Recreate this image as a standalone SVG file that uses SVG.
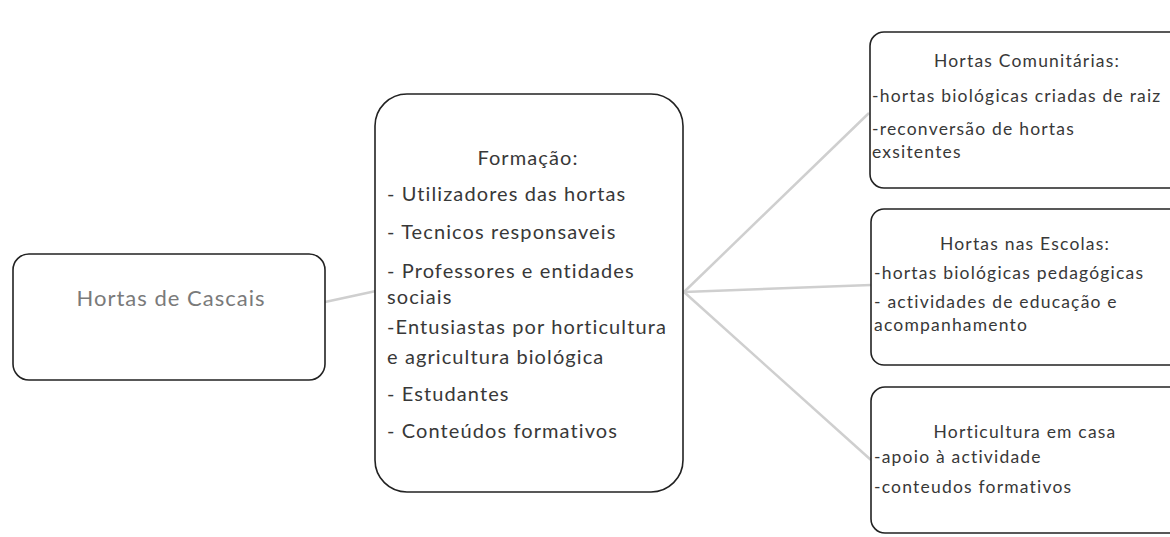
<svg xmlns="http://www.w3.org/2000/svg" width="1170" height="537" viewBox="0 0 1170 537">
<style>
.box{fill:#fff;stroke:#222;stroke-width:1.6}
.conn{stroke:#cfcfcf;stroke-width:2.5;fill:none}
text{font-family:Lato,"Liberation Sans",sans-serif;fill:#383838}
.m{font-size:20px;letter-spacing:1.1px}
.r{font-size:17.5px;letter-spacing:1.2px}
.c{text-anchor:middle}
</style>
<rect width="1170" height="537" fill="#fff"/>
<g id="connectors">
<line class="conn" x1="325" y1="302" x2="376" y2="291"/>
<line class="conn" x1="684" y1="292" x2="869" y2="113"/>
<line class="conn" x1="684" y1="292" x2="871" y2="285"/>
<line class="conn" x1="684" y1="292" x2="871" y2="460"/>
</g>
<g id="hortas-cascais">
<rect class="box" x="13" y="254" width="312" height="126" rx="16"/>
<text x="171" y="306" class="c" style="font-size:22px;letter-spacing:1px;fill:#7a7a7a">Hortas de Cascais</text>
</g>
<g id="formacao">
<rect class="box" x="375" y="94" width="308" height="398" rx="32"/>
<text x="528" y="165" class="m c">Formação:</text>
<text x="387" y="201" class="m">- Utilizadores das hortas</text>
<text x="387" y="239" class="m">- Tecnicos responsaveis</text>
<text x="387" y="278" class="m">- Professores e entidades</text>
<text x="387" y="304" class="m">sociais</text>
<text x="387" y="334" class="m">-Entusiastas por horticultura</text>
<text x="387" y="364" class="m">e agricultura biológica</text>
<text x="387" y="401" class="m">- Estudantes</text>
<text x="387" y="438" class="m">- Conteúdos formativos</text>
</g>
<g id="hortas-comunitarias">
<rect class="box" x="870" y="32" width="320" height="156" rx="14"/>
<text x="1027" y="67" class="r c">Hortas Comunitárias:</text>
<text x="872" y="102" class="r">-hortas biológicas criadas de raiz</text>
<text x="872" y="135" class="r">-reconversão de hortas</text>
<text x="872" y="158" class="r">exsitentes</text>
</g>
<g id="hortas-escolas">
<rect class="box" x="871" y="209" width="320" height="156" rx="13"/>
<text x="1025" y="250" class="r c">Hortas nas Escolas:</text>
<text x="874" y="279" class="r">-hortas biológicas pedagógicas</text>
<text x="874" y="308" class="r">- actividades de educação e</text>
<text x="874" y="331" class="r">acompanhamento</text>
</g>
<g id="horticultura-casa">
<rect class="box" x="871" y="387" width="320" height="146" rx="14"/>
<text x="1025" y="438" class="r c">Horticultura em casa</text>
<text x="874" y="463" class="r">-apoio à actividade</text>
<text x="874" y="493" class="r">-conteudos formativos</text>
</g>
</svg>
